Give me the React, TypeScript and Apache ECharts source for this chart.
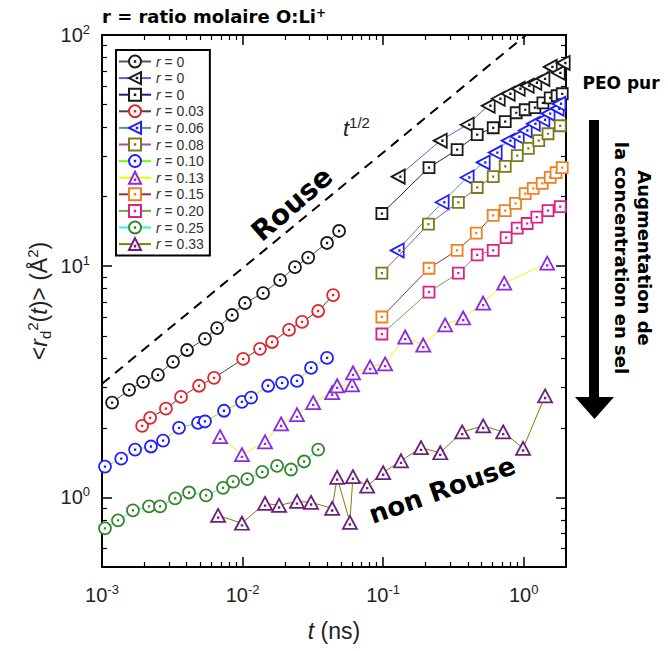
import React, { useEffect, useRef } from 'react';
import * as echarts from 'echarts';

// ---- axis ticks ----
const xMajor = [0.001, 0.01, 0.1, 1];
const xMinor = [0.002, 0.003, 0.004, 0.005, 0.006, 0.007, 0.008, 0.009, 0.02, 0.03, 0.04, 0.05, 0.06, 0.07, 0.08, 0.09, 0.2, 0.3, 0.4, 0.5, 0.6, 0.7, 0.8, 0.9];
const yMajor = [1, 10, 100];
const yMinor = [0.6, 0.7, 0.8, 0.9, 2, 3, 4, 5, 6, 7, 8, 9, 20, 30, 40, 50, 60, 70, 80, 90];

// ---- data: t (ns) and <r_d^2(t)> (Å^2) ----
const tR0Circle = [0.00118, 0.00156, 0.00196, 0.0025, 0.0032, 0.00403, 0.0054, 0.00659, 0.00842, 0.0104, 0.014, 0.0185, 0.0236, 0.0293, 0.0399, 0.0486];
const vR0Circle = [2.57, 2.92, 3.16, 3.39, 3.86, 4.34, 4.85, 5.4, 6.15, 6.93, 7.65, 8.7, 9.9, 10.9, 12.6, 14.2];

const tR0Tri = [0.128, 0.255, 0.396, 0.559, 0.659, 0.776, 0.914, 1.059, 1.2, 1.37, 1.545, 1.76, 1.91];
const vR0Tri = [24.4, 34.9, 40.9, 49.4, 53.0, 55.7, 58.5, 60.3, 62.1, 64.6, 72.8, 68.6, 75.7];

const tR0Sq = [0.098, 0.212, 0.336, 0.467, 0.607, 0.739, 0.885, 1.025, 1.2, 1.37, 1.545, 1.73, 1.88];
const vR0Sq = [16.9, 26.7, 31.9, 37.1, 39.7, 42.2, 46.1, 47.5, 48.5, 50.9, 53.5, 54.6, 55.7];

const tR003 = [0.00193, 0.0022, 0.00285, 0.00365, 0.0049, 0.00627, 0.0101, 0.0133, 0.0162, 0.0214, 0.0265, 0.0345, 0.0441];
const vR003 = [2.04, 2.21, 2.42, 2.72, 3.04, 3.29, 3.97, 4.39, 4.7, 5.3, 5.74, 6.4, 7.5];

const tR006 = [0.126, 0.263, 0.396, 0.515, 0.627, 0.776, 0.9, 1.025, 1.17, 1.37, 1.49, 1.73, 1.78];
const vR006 = [11.7, 18.9, 24.2, 28.1, 31.0, 34.9, 36.3, 38.6, 41.3, 43.0, 45.7, 48.0, 50.4];

const tR008 = [0.098, 0.21, 0.343, 0.467, 0.607, 0.739, 0.9, 1.08, 1.28, 1.49, 1.82];
const vR008 = [9.33, 15.2, 18.9, 21.9, 24.4, 27.0, 30.1, 32.3, 34.9, 37.4, 40.5];

const tR010 = [0.00105, 0.00137, 0.00172, 0.00223, 0.00272, 0.00353, 0.00482, 0.0054, 0.00738, 0.0099, 0.0115, 0.0152, 0.0191, 0.0244, 0.0307, 0.0399];
const vR010 = [1.36, 1.47, 1.61, 1.66, 1.76, 2.0, 2.1, 2.13, 2.37, 2.59, 2.7, 3.04, 3.13, 3.19, 3.63, 4.01];

const tR013 = [0.00692, 0.0099, 0.01445, 0.0188, 0.0244, 0.0318, 0.0434, 0.0471, 0.0602, 0.0611, 0.0808, 0.1033, 0.1435, 0.193, 0.276, 0.371, 0.515, 0.727, 1.47];
const vR013 = [1.83, 1.53, 1.74, 2.08, 2.28, 2.57, 2.84, 3.04, 3.07, 3.46, 3.67, 3.78, 4.94, 4.56, 5.57, 5.97, 6.93, 8.45, 10.3];

const tR015 = [0.098, 0.212, 0.336, 0.46, 0.607, 0.739, 0.875, 1.025, 1.17, 1.355, 1.545, 1.7, 1.88];
const vR015 = [6.03, 9.8, 11.7, 13.9, 16.6, 17.4, 18.7, 20.6, 21.7, 22.8, 24.2, 25.4, 26.7];

const tR020 = [0.098, 0.212, 0.343, 0.467, 0.607, 0.75, 0.9, 1.059, 1.24, 1.49, 1.82];
const vR020 = [5.09, 7.73, 9.33, 11.2, 11.7, 13.3, 14.6, 15.3, 16.3, 17.4, 18.1];

const tR025 = [0.00105, 0.0013, 0.00166, 0.00216, 0.00259, 0.00331, 0.00416, 0.0055, 0.00726, 0.00856, 0.0108, 0.0138, 0.0176, 0.0221, 0.0274, 0.0345];
const vR025 = [0.735, 0.796, 0.879, 0.914, 0.914, 0.99, 1.05, 1.02, 1.1, 1.17, 1.2, 1.29, 1.37, 1.32, 1.43, 1.61];

const tR033 = [0.0067, 0.0099, 0.01445, 0.0182, 0.0244, 0.0307, 0.0434, 0.0471, 0.058, 0.061, 0.0769, 0.1, 0.134, 0.186, 0.255, 0.365, 0.515, 0.715, 0.99, 1.42];
const vR033 = [0.836, 0.773, 0.942, 0.924, 0.961, 0.952, 0.897, 1.22, 0.78, 1.23, 1.12, 1.28, 1.44, 1.64, 1.56, 1.92, 2.04, 1.92, 1.63, 2.75];

// Rouse reference line (slope 1/2)
const tRouse = [0.001, 1.04];
const vRouse = [3.1, 100];

// legend labels (values of r)
const rLabels = ['0', '0', '0', '0.03', '0.06', '0.08', '0.10', '0.13', '0.15', '0.20', '0.25', '0.33'];

// ---- symbols (outline + centre dot) ----
const SYM_CIRCLE = 'path://M50,0A50,50 0 1,1 50,100A50,50 0 1,1 50,0Z M48,48h4v4h-4Z';
const SYM_SQUARE = 'path://M0,0H100V100H0Z M48,48h4v4h-4Z';
const SYM_UP = 'path://M50,0L100,87L0,87Z M48,56h4v4h-4Z';
const SYM_LEFT = 'path://M0,50L87,0L87,100Z M56,48h4v4h-4Z';

const seriesDefs = [
  { t: tR0Circle, v: vR0Circle, sym: SYM_CIRCLE, size: [12, 12], color: '#1a1a1a', line: '#555555' },
  { t: tR0Tri, v: vR0Tri, sym: SYM_LEFT, size: [13, 14], color: '#1a1a1a', line: '#6a5acd' },
  { t: tR0Sq, v: vR0Sq, sym: SYM_SQUARE, size: [11, 11], color: '#1a1a1a', line: '#1e1e78' },
  { t: tR003, v: vR003, sym: SYM_CIRCLE, size: [12, 12], color: '#e0262b', line: '#444444' },
  { t: tR006, v: vR006, sym: SYM_LEFT, size: [13, 14], color: '#1f1fff', line: '#4f9a9a' },
  { t: tR008, v: vR008, sym: SYM_SQUARE, size: [11, 11], color: '#7a7a1a', line: '#9b4fb0' },
  { t: tR010, v: vR010, sym: SYM_CIRCLE, size: [12, 12], color: '#1f1fff', line: '#7cfc00' },
  { t: tR013, v: vR013, sym: SYM_UP, size: [14, 13], color: '#8a2be2', line: '#f5f500' },
  { t: tR015, v: vR015, sym: SYM_SQUARE, size: [11, 11], color: '#ee8122', line: '#8b3a3a' },
  { t: tR020, v: vR020, sym: SYM_SQUARE, size: [11, 11], color: '#df2183', line: '#6aa84f' },
  { t: tR025, v: vR025, sym: SYM_CIRCLE, size: [12, 12], color: '#35862a', line: '#30f0f0' },
  { t: tR033, v: vR033, sym: SYM_UP, size: [14, 13], color: '#6e1f7e', line: '#808000' },
];

const seriesNames = rLabels.map((r, i) => 'r = ' + r + ' '.repeat(i < 3 ? i : 0));

const supExp = (v: number) => {
  const e = Math.round(Math.log10(v));
  return '{b|10}{s|' + e + '}';
};

const labelRich = {
  b: { fontSize: 20, fontFamily: 'Liberation Sans', color: '#222', lineHeight: 24 },
  s: { fontSize: 13, fontFamily: 'Liberation Sans', color: '#222', lineHeight: 13, verticalAlign: 'top' },
};

function App() {
  const ref = useRef<HTMLDivElement>(null);
  useEffect(() => {
    if (!ref.current) return;
    const chart = echarts.init(ref.current, null, { renderer: 'svg' });

    const xBase = { type: 'log', logBase: 10, min: 0.001, max: 2, gridIndex: 0, splitLine: { show: false } };
    const yBase = { type: 'log', logBase: 10, min: 0.5, max: 100, gridIndex: 0, splitLine: { show: false } };
    const lineOn = { show: true, lineStyle: { color: '#000', width: 2 } };
    const noLabel = { show: false };

    const xAxis = [
      {
        ...xBase, position: 'bottom', axisLine: lineOn,
        axisTick: { show: true, inside: true, length: 10, customValues: xMajor, lineStyle: { color: '#000', width: 1.5 } },
        axisLabel: { show: true, customValues: xMajor, margin: 16, formatter: supExp, rich: labelRich },
        name: '{i|t} (ns)', nameLocation: 'middle', nameGap: 52, nameMoveOverlap: false,
        nameTextStyle: {
          fontFamily: 'Liberation Sans', fontSize: 23, color: '#222',
          rich: { i: { fontStyle: 'italic', fontFamily: 'Liberation Sans', fontSize: 23, color: '#222' } },
        },
      },
      { ...xBase, position: 'bottom', axisLine: { show: false }, axisLabel: noLabel,
        axisTick: { show: true, inside: true, length: 5, customValues: xMinor, lineStyle: { color: '#000', width: 1.2 } } },
      { ...xBase, position: 'top', axisLine: lineOn, axisLabel: noLabel,
        axisTick: { show: true, inside: true, length: 10, customValues: xMajor, lineStyle: { color: '#000', width: 1.5 } } },
      { ...xBase, position: 'top', axisLine: { show: false }, axisLabel: noLabel,
        axisTick: { show: true, inside: true, length: 5, customValues: xMinor, lineStyle: { color: '#000', width: 1.2 } } },
    ];
    const yAxis = [
      {
        ...yBase, position: 'left', axisLine: lineOn,
        axisTick: { show: true, inside: true, length: 10, customValues: yMajor, lineStyle: { color: '#000', width: 1.5 } },
        axisLabel: { show: true, customValues: yMajor, margin: 12, formatter: supExp, rich: labelRich },
        name: '{n|<}{i|r}{sub|d}{sup|2}{n|(}{i|t}{n|)> (Å}{sup|2}{n|)}',
        nameLocation: 'middle', nameRotate: 90, nameGap: 49, nameMoveOverlap: false,
        nameTextStyle: {
          fontFamily: 'Liberation Sans', fontSize: 23, color: '#222',
          rich: {
            n: { fontFamily: 'Liberation Sans', fontSize: 23, color: '#222', lineHeight: 28 },
            i: { fontFamily: 'Liberation Sans', fontStyle: 'italic', fontSize: 23, color: '#222', lineHeight: 28 },
            sub: { fontFamily: 'Liberation Sans', fontSize: 15, color: '#222', lineHeight: 15, verticalAlign: 'bottom' },
            sup: { fontFamily: 'Liberation Sans', fontSize: 15, color: '#222', lineHeight: 15, verticalAlign: 'top' },
          },
        },
      },
      { ...yBase, position: 'left', axisLine: { show: false }, axisLabel: noLabel,
        axisTick: { show: true, inside: true, length: 5, customValues: yMinor, lineStyle: { color: '#000', width: 1.2 } } },
      { ...yBase, position: 'right', axisLine: lineOn, axisLabel: noLabel,
        axisTick: { show: true, inside: true, length: 10, customValues: yMajor, lineStyle: { color: '#000', width: 1.5 } } },
      { ...yBase, position: 'right', axisLine: { show: false }, axisLabel: noLabel,
        axisTick: { show: true, inside: true, length: 5, customValues: yMinor, lineStyle: { color: '#000', width: 1.2 } } },
    ];

    const series: any[] = [
      {
        type: 'line', name: 'Rouse', xAxisIndex: 0, yAxisIndex: 0, symbol: 'none', silent: true,
        data: tRouse.map((t, i) => [t, vRouse[i]]),
        lineStyle: { color: '#000', width: 2, type: [10, 7] },
      },
    ];
    seriesDefs.forEach((d, i) => {
      series.push({
        type: 'line', name: seriesNames[i], xAxisIndex: 0, yAxisIndex: 0,
        data: d.t.map((t, k) => [t, d.v[k]]),
        symbol: d.sym, symbolSize: d.size, showAllSymbol: true,
        lineStyle: { color: d.line, width: 1 },
        itemStyle: { color: '#ffffff', borderColor: d.color, borderWidth: 1.8 },
        z: 3 + i,
      });
    });

    chart.setOption({
      animation: false,
      backgroundColor: '#fff',
      grid: { left: 102, right: 102, top: 35, bottom: 84, containLabel: false, outerBoundsMode: 'none' },
      xAxis, yAxis, series,
      legend: {
        data: seriesNames, orient: 'vertical', left: 116, top: 50,
        padding: [4, 6, 4, 2], itemGap: 1.6, itemWidth: 32, itemHeight: 15,
        borderColor: '#000', borderWidth: 2, backgroundColor: '#fff',
        selectedMode: false,
        formatter: (name: string) => '{i|r} = ' + name.trim().slice(4),
        textStyle: {
          fontFamily: 'Liberation Sans', fontSize: 14, color: '#333', lineHeight: 15,
          rich: { i: { fontFamily: 'Liberation Sans', fontStyle: 'italic', fontSize: 14, color: '#333', lineHeight: 15 } },
        },
      },
      graphic: [
        {
          type: 'text', x: 102, y: 16, z: 100,
          style: {
            text: 'r = ratio molaire O:Li{s|+}', fill: '#000',
            font: 'bold 18px "DejaVu Sans"', verticalAlign: 'middle',
            rich: { s: { font: 'bold 12px "DejaVu Sans"', fill: '#000', verticalAlign: 'top', lineHeight: 12 } },
          },
        },
        {
          type: 'text', x: 621, y: 83, z: 100,
          style: { text: 'PEO pur', fill: '#000', font: 'bold 17px "DejaVu Sans"', align: 'center', verticalAlign: 'middle' },
        },
        { type: 'rect', z: 100, shape: { x: 589, y: 120, width: 10, height: 279 }, style: { fill: '#000' } },
        { type: 'polygon', z: 100, shape: { points: [[575, 397], [614, 397], [594.5, 419]] }, style: { fill: '#000' } },
        {
          type: 'text', x: 633, y: 258, rotation: -Math.PI / 2, z: 100,
          style: {
            text: 'Augmentation de\nla concentration en sel', fill: '#000',
            font: 'bold 18px "DejaVu Sans"', align: 'center', verticalAlign: 'middle', lineHeight: 23,
          },
        },
        {
          type: 'text', x: 292, y: 204, rotation: (41 * Math.PI) / 180, z: 100,
          style: { text: 'Rouse', fill: '#000', font: 'bold 28px "DejaVu Sans"', align: 'center', verticalAlign: 'middle' },
        },
        {
          type: 'text', x: 442, y: 490, rotation: (19.5 * Math.PI) / 180, z: 100,
          style: { text: 'non Rouse', fill: '#000', font: 'bold 26px "DejaVu Sans"', align: 'center', verticalAlign: 'middle' },
        },
        {
          type: 'text', x: 343, y: 128, z: 100,
          style: {
            text: '{i|t}{s|1/2}', verticalAlign: 'middle',
            rich: {
              i: { fontFamily: 'Liberation Sans', fontStyle: 'italic', fontSize: 22, fill: '#222', lineHeight: 26 },
              s: { fontFamily: 'Liberation Sans', fontSize: 15, fill: '#222', lineHeight: 15, verticalAlign: 'top' },
            },
          },
        },
      ],
    } as any);
    return () => chart.dispose();
  }, []);
  return <div ref={ref} style={{ position: 'absolute', left: 0, top: 0, width: 668, height: 651 }} />;
}

export default App;
